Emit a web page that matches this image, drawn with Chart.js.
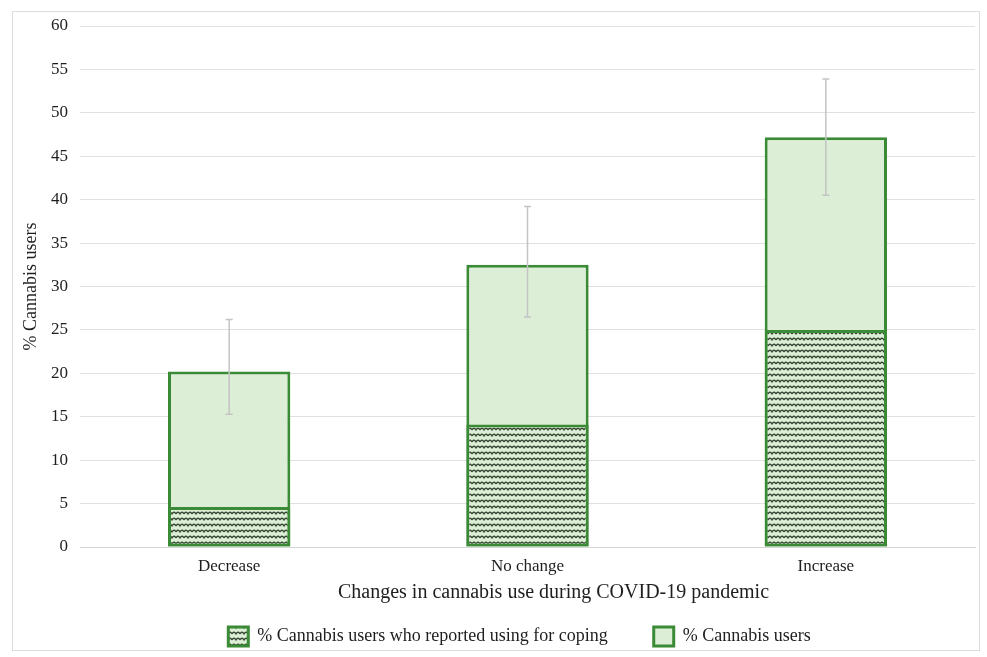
<!DOCTYPE html>
<html>
<head>
<meta charset="utf-8">
<script src="https://cdn.jsdelivr.net/npm/chart.js@4.4.1/dist/chart.umd.min.js"></script>
<style>
  html, body { margin: 0; padding: 0; background: #ffffff; }
  #wrap { position: relative; width: 987px; height: 657px; }
  #frame { position: absolute; left: 12px; top: 11px; width: 968px; height: 640px; border: 1px solid #dcdcdc; box-sizing: border-box; }
  canvas { position: absolute; left: 0; top: 0; }
</style>
</head>
<body>
<div id="wrap">
  <div id="frame"></div>
  <canvas id="chart" width="987" height="657"></canvas>
</div>
<script>
// Categories and values (% of cannabis users)
const categories = ['Decrease', 'No change', 'Increase'];
const cannabisUsers = [20.2, 32.5, 47.2];
const copingUsers = [4.6, 14.1, 25.0];
const errorLow = [15.3, 26.5, 40.5];
const errorHigh = [26.2, 39.2, 53.9];
const yTicks = [0, 5, 10, 15, 20, 25, 30, 35, 40, 45, 50, 55, 60];
const xTitle = 'Changes in cannabis use during COVID-19 pandemic';

const FONT = "'Liberation Serif', 'Times New Roman', serif";
const GREEN = '#3b8a35';
const LIGHT = '#dcefd6';
const TEXT = '#1e1e1e';
const LEGEND_GAP = 46;

// Wavy hatch used for the coping bars
function wavePattern() {
  const c = document.createElement('canvas');
  c.width = 8; c.height = 6;
  const g = c.getContext('2d');
  g.fillStyle = LIGHT;
  g.fillRect(0, 0, 8, 6);
  g.strokeStyle = '#334531';
  g.lineWidth = 1.3;
  g.beginPath();
  g.moveTo(0, 4);
  g.quadraticCurveTo(2, 0.5, 4, 4);
  g.quadraticCurveTo(6, 0.5, 8, 4);
  g.stroke();
  return document.getElementById('chart').getContext('2d').createPattern(c, 'repeat');
}

// Error bars, x-axis title and legend placement
const overlay = {
  id: 'overlay',
  afterLayout(chart) {
    // place the legend row under the axis title, slightly right of centre
    const lg = chart.legend;
    const dx = 22;
    lg.left += dx; lg.right += dx;
    const h = lg.bottom - lg.top;
    lg.top = 635 - LEGEND_GAP - 8;
    lg.bottom = lg.top + h;
  },
  afterDatasetsDraw(chart) {
    const ctx = chart.ctx;
    const meta = chart.getDatasetMeta(1);
    const y = chart.scales.y;
    ctx.save();
    ctx.strokeStyle = '#c4c4c4';
    ctx.lineWidth = 1.5;
    meta.data.forEach((bar, i) => {
      const x = bar.x;
      const yl = y.getPixelForValue(errorLow[i]);
      const yh = y.getPixelForValue(errorHigh[i]);
      ctx.beginPath();
      ctx.moveTo(x, yl); ctx.lineTo(x, yh);
      ctx.moveTo(x - 3.5, yl); ctx.lineTo(x + 3.5, yl);
      ctx.moveTo(x - 3.5, yh); ctx.lineTo(x + 3.5, yh);
      ctx.stroke();
    });
    ctx.restore();
  },
  afterDraw(chart) {
    const ctx = chart.ctx;
    const area = chart.chartArea;
    ctx.save();
    ctx.font = '20px ' + FONT;
    ctx.fillStyle = TEXT;
    ctx.textAlign = 'center';
    ctx.textBaseline = 'middle';
    ctx.fillText(xTitle, (area.left + area.right) / 2 + 26, area.bottom + 46);
    ctx.restore();
  }
};

const pattern = wavePattern();

new Chart(document.getElementById('chart'), {
  type: 'bar',
  data: {
    labels: categories,
    datasets: [
      {
        label: '% Cannabis users who reported using for coping',
        data: copingUsers,
        backgroundColor: pattern,
        borderColor: GREEN,
        borderWidth: 3,
        borderSkipped: false,
        grouped: false,
        order: 0,
        barPercentage: 0.41,
        categoryPercentage: 1.0
      },
      {
        label: '% Cannabis users',
        data: cannabisUsers,
        backgroundColor: LIGHT,
        borderColor: GREEN,
        borderWidth: 3,
        borderSkipped: false,
        grouped: false,
        order: 1,
        barPercentage: 0.41,
        categoryPercentage: 1.0
      }
    ]
  },
  options: {
    responsive: false,
    animation: false,
    devicePixelRatio: 1,
    layout: { padding: { left: 20, right: 12, top: 26, bottom: -27 } },
    plugins: {
      tooltip: { enabled: false },
      legend: {
        position: 'bottom',
        labels: {
          font: { family: FONT, size: 18 },
          color: TEXT,
          boxWidth: 20,
          boxHeight: 19,
          padding: LEGEND_GAP,
          useBorderRadius: false
        }
      }
    },
    scales: {
      x: {
        grid: { display: false, drawTicks: false },
        border: { display: true, color: '#d6d6d6' },
        ticks: { font: { family: FONT, size: 17 }, color: TEXT, padding: 9 },
        afterFit(s) { s.height = 62; }
      },
      y: {
        min: 0, max: 60,
        afterBuildTicks(s) { s.ticks = yTicks.map(v => ({ value: v })); },
        afterFit(s) { s.width = 60; },
        grid: { color: '#e0e0e0', drawTicks: false },
        border: { display: false },
        ticks: { font: { family: FONT, size: 17 }, color: TEXT, padding: 12 },
        title: {
          display: true,
          text: '% Cannabis users',
          font: { family: FONT, size: 18 },
          color: TEXT,
          padding: { top: 0, bottom: 4 }
        }
      }
    }
  },
  plugins: [overlay]
});
</script>
</body>
</html>
